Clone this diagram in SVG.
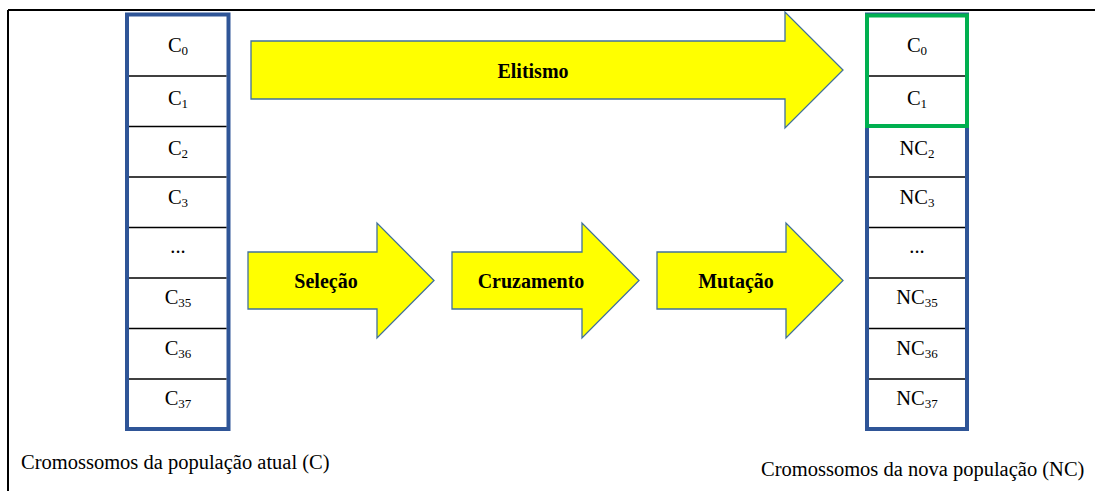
<svg xmlns="http://www.w3.org/2000/svg" width="1095" height="491" viewBox="0 0 1095 491" font-family="'Liberation Serif', 'DejaVu Serif', serif">
  <style>
    .frame { stroke: #000; stroke-width: 2; fill: none; }
    .col { fill: #fff; stroke: #2F5597; stroke-width: 4; }
    .elite { fill: none; stroke: #00B050; stroke-width: 4; }
    .sep { stroke: #000; stroke-width: 1.5; }
    .cell { font-size: 20.5px; fill: #000; text-anchor: middle; }
    .sub { font-size: 13px; }
    .arrow { fill: #FFFF00; stroke: #41719C; stroke-width: 1.3; stroke-linejoin: miter; }
    .alabel { font-size: 20px; font-weight: bold; fill: #000; text-anchor: middle; }
    .caption { font-size: 20.5px; fill: #000; }
  </style>

  <rect width="1095" height="491" fill="#fff"/>
  <g id="frame">
    <line class="frame" x1="8" y1="10" x2="1095" y2="10"/>
    <line class="frame" x1="8" y1="10" x2="8" y2="491"/>
  </g>

  <g id="col-current">
    <rect class="col" x="127" y="14.5" width="101.5" height="414.5"/>
    <line class="sep" x1="129" y1="76" x2="226.5" y2="76"/>
    <line class="sep" x1="129" y1="126.5" x2="226.5" y2="126.5"/>
    <line class="sep" x1="129" y1="177" x2="226.5" y2="177"/>
    <line class="sep" x1="129" y1="227.5" x2="226.5" y2="227.5"/>
    <line class="sep" x1="129" y1="278" x2="226.5" y2="278"/>
    <line class="sep" x1="129" y1="328.5" x2="226.5" y2="328.5"/>
    <line class="sep" x1="129" y1="379" x2="226.5" y2="379"/>
    <text class="cell" x="178" y="52">C<tspan class="sub" dy="3">0</tspan></text>
    <text class="cell" x="178" y="105">C<tspan class="sub" dy="3">1</tspan></text>
    <text class="cell" x="178" y="155">C<tspan class="sub" dy="3">2</tspan></text>
    <text class="cell" x="178" y="204">C<tspan class="sub" dy="3">3</tspan></text>
    <text class="cell" x="178" y="253">...</text>
    <text class="cell" x="178" y="304">C<tspan class="sub" dy="3">35</tspan></text>
    <text class="cell" x="178" y="355">C<tspan class="sub" dy="3">36</tspan></text>
    <text class="cell" x="178" y="405">C<tspan class="sub" dy="3">37</tspan></text>
  </g>

  <g id="col-new">
    <rect class="col" x="867" y="14.5" width="100" height="414.5"/>
    <line class="sep" x1="869" y1="76" x2="965" y2="76"/>
    <line class="sep" x1="869" y1="177" x2="965" y2="177"/>
    <line class="sep" x1="869" y1="227.5" x2="965" y2="227.5"/>
    <line class="sep" x1="869" y1="278" x2="965" y2="278"/>
    <line class="sep" x1="869" y1="328.5" x2="965" y2="328.5"/>
    <line class="sep" x1="869" y1="379" x2="965" y2="379"/>
    <rect class="elite" x="867" y="15.5" width="100" height="110.5"/>
    <text class="cell" x="917" y="52">C<tspan class="sub" dy="3">0</tspan></text>
    <text class="cell" x="917" y="105">C<tspan class="sub" dy="3">1</tspan></text>
    <text class="cell" x="917" y="155">NC<tspan class="sub" dy="3">2</tspan></text>
    <text class="cell" x="917" y="204">NC<tspan class="sub" dy="3">3</tspan></text>
    <text class="cell" x="917" y="253">...</text>
    <text class="cell" x="917" y="304">NC<tspan class="sub" dy="3">35</tspan></text>
    <text class="cell" x="917" y="355">NC<tspan class="sub" dy="3">36</tspan></text>
    <text class="cell" x="917" y="405">NC<tspan class="sub" dy="3">37</tspan></text>
  </g>

  <g id="connectors">
    <g id="arrow-elitismo">
      <polygon class="arrow" points="251,41 785,41 785,12 843,70 785,128 785,99 251,99"/>
      <text class="alabel" x="533" y="77.5">Elitismo</text>
    </g>
    <g id="arrow-selecao">
      <polygon class="arrow" points="248,252 377,252 377,223 434,280.5 377,338 377,309 248,309"/>
      <text class="alabel" x="326" y="287.5">Seleção</text>
    </g>
    <g id="arrow-cruzamento">
      <polygon class="arrow" points="452,252 582,252 582,223 639,280.5 582,338 582,309 452,309"/>
      <text class="alabel" x="531" y="287.5">Cruzamento</text>
    </g>
    <g id="arrow-mutacao">
      <polygon class="arrow" points="657,252 786,252 786,223 843,280.5 786,338 786,309 657,309"/>
      <text class="alabel" x="736" y="287.5">Mutação</text>
    </g>
  </g>

  <g id="captions">
    <text class="caption" x="21" y="469">Cromossomos da população atual (C)</text>
    <text class="caption" x="761" y="476">Cromossomos da nova população (NC)</text>
  </g>
</svg>
